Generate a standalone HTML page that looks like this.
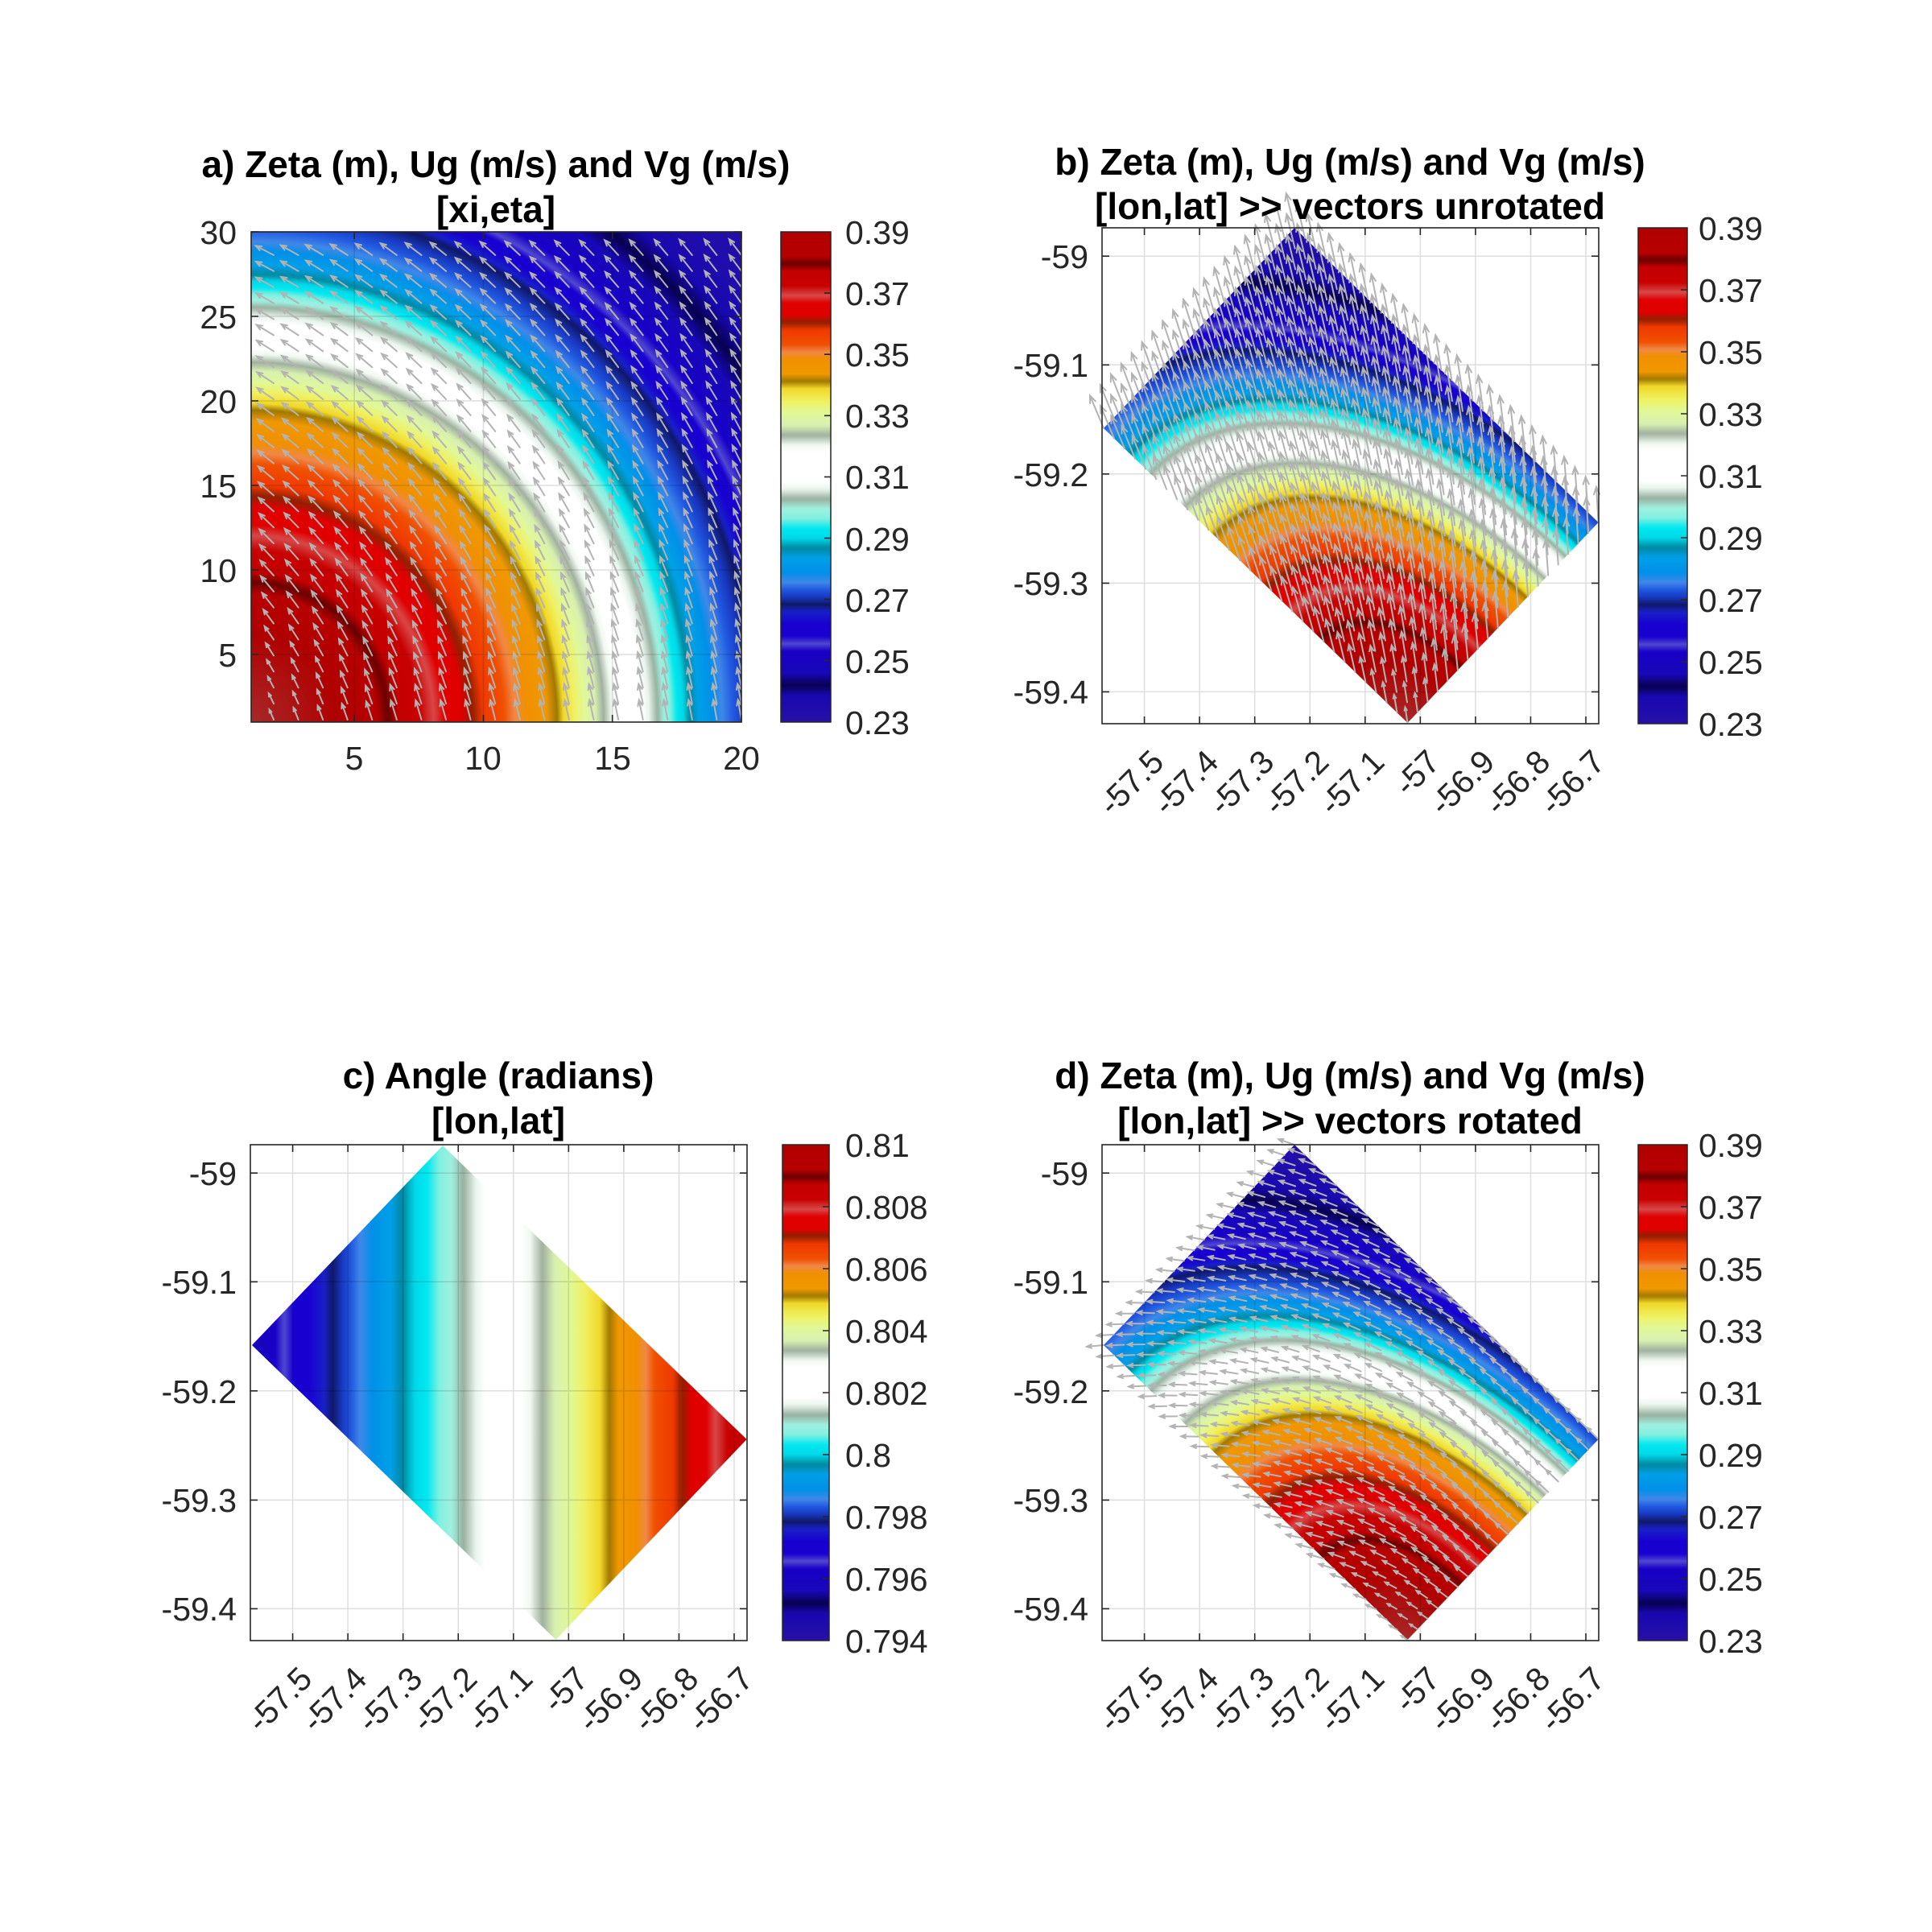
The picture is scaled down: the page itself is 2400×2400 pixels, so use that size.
<!DOCTYPE html>
<html><head><meta charset="utf-8"><style>
html,body{margin:0;padding:0;background:#fff;}
svg{display:block;}
text{font-family:"Liberation Sans",Arial,sans-serif;}
.t{font-size:41px;fill:#262626;}
.h{font-size:46px;font-weight:bold;fill:#000;text-anchor:middle;}
</style></head><body>
<svg id="s" xmlns="http://www.w3.org/2000/svg" width="2400" height="2400" viewBox="0 0 2400 2400">
<defs id="defs">
<rect id="fieldA" x="312" y="288" width="609" height="609" fill="url(#ga)"/>
</defs>
<rect width="2400" height="2400" fill="#fff"/>
<g id="fields">
<rect x="312" y="288" width="609" height="609" fill="url(#ga)"/>
<use href="#fieldA" transform="matrix(0.3893,-0.4089,0.6199,0.6010,1071.0,486.5)"/>
<use href="#fieldA" transform="matrix(0.3893,-0.4089,0.6199,0.6010,1071.0,1625.5)"/>
<polygon points="550,1423 313,1671 690.5,2037 927.6,1788" fill="url(#gc)"/>
<rect x="970" y="288" width="62" height="609" fill="url(#gcb)" stroke="#262626" stroke-width="1.5"/>
<rect x="2035" y="283" width="61" height="616" fill="url(#gcb)" stroke="#262626" stroke-width="1.5"/>
<rect x="972" y="1422" width="58" height="616" fill="url(#gcb)" stroke="#262626" stroke-width="1.5"/>
<rect x="2035" y="1422" width="61" height="616" fill="url(#gcb)" stroke="#262626" stroke-width="1.5"/>
</g>
<g id="grid" stroke="#000" stroke-opacity="0.13" stroke-width="1.5" fill="none"></g>
<g id="arrows" stroke="#b3b3b3" stroke-width="2" fill="none" stroke-linecap="round"></g>
<g id="frames" stroke="#262626" stroke-width="1.6" fill="none">
<rect x="312" y="288" width="609" height="609"/>
<rect x="1369" y="283" width="617" height="616"/>
<rect x="311" y="1422" width="617" height="616"/>
<rect x="1369" y="1422" width="617" height="616"/>
</g>
<g id="ticks" stroke="#262626" stroke-width="1.6" fill="none"></g>

<text class="h" x="616" y="220">a) Zeta (m), Ug (m/s) and Vg (m/s)</text>
<text class="h" x="616" y="276">[xi,eta]</text>
<text class="h" x="1677" y="217">b) Zeta (m), Ug (m/s) and Vg (m/s)</text>
<text class="h" x="1677" y="272">[lon,lat] &gt;&gt; vectors unrotated</text>
<text class="h" x="619" y="1352">c) Angle (radians)</text>
<text class="h" x="619" y="1408">[lon,lat]</text>
<text class="h" x="1677" y="1352">d) Zeta (m), Ug (m/s) and Vg (m/s)</text>
<text class="h" x="1677" y="1408">[lon,lat] &gt;&gt; vectors rotated</text>

<g class="t" text-anchor="end">
<text x="294" y="303">30</text><text x="294" y="408">25</text><text x="294" y="513">20</text>
<text x="294" y="618">15</text><text x="294" y="723">10</text><text x="294" y="828">5</text>
</g>
<g class="t" text-anchor="middle">
<text x="440" y="956">5</text><text x="600" y="956">10</text><text x="761" y="956">15</text><text x="921" y="956">20</text>
</g>
<g class="t">
<text x="1050" y="303">0.39</text><text x="1050" y="379">0.37</text><text x="1050" y="455">0.35</text>
<text x="1050" y="531">0.33</text><text x="1050" y="607">0.31</text><text x="1050" y="684">0.29</text>
<text x="1050" y="760">0.27</text><text x="1050" y="836">0.25</text><text x="1050" y="912">0.23</text>
</g>
<g class="t" text-anchor="end">
<text x="1352" y="333">-59</text><text x="1352" y="468">-59.1</text><text x="1352" y="604">-59.2</text>
<text x="1352" y="739">-59.3</text><text x="1352" y="874">-59.4</text>
</g>
<g class="t">
<text x="2110" y="298">0.39</text><text x="2110" y="375">0.37</text><text x="2110" y="452">0.35</text>
<text x="2110" y="529">0.33</text><text x="2110" y="606">0.31</text><text x="2110" y="683">0.29</text>
<text x="2110" y="760">0.27</text><text x="2110" y="837">0.25</text><text x="2110" y="914">0.23</text>
</g>
<g class="t" text-anchor="end">
<text x="294" y="1472">-59</text><text x="294" y="1607">-59.1</text><text x="294" y="1743">-59.2</text>
<text x="294" y="1878">-59.3</text><text x="294" y="2013">-59.4</text>
</g>
<g class="t">
<text x="1050" y="1437">0.81</text><text x="1050" y="1514">0.808</text><text x="1050" y="1591">0.806</text>
<text x="1050" y="1668">0.804</text><text x="1050" y="1745">0.802</text><text x="1050" y="1822">0.8</text>
<text x="1050" y="1899">0.798</text><text x="1050" y="1976">0.796</text><text x="1050" y="2053">0.794</text>
</g>
<g class="t" text-anchor="end">
<text x="1352" y="1472">-59</text><text x="1352" y="1607">-59.1</text><text x="1352" y="1743">-59.2</text>
<text x="1352" y="1878">-59.3</text><text x="1352" y="2013">-59.4</text>
</g>
<g class="t">
<text x="2110" y="1437">0.39</text><text x="2110" y="1514">0.37</text><text x="2110" y="1591">0.35</text>
<text x="2110" y="1668">0.33</text><text x="2110" y="1745">0.31</text><text x="2110" y="1822">0.29</text>
<text x="2110" y="1899">0.27</text><text x="2110" y="1976">0.25</text><text x="2110" y="2053">0.23</text>
</g>
<g class="t" text-anchor="end">
<text transform="translate(1448,949) rotate(-45)">-57.5</text>
<text transform="translate(1516,949) rotate(-45)">-57.4</text>
<text transform="translate(1585,949) rotate(-45)">-57.3</text>
<text transform="translate(1653,949) rotate(-45)">-57.2</text>
<text transform="translate(1722,949) rotate(-45)">-57.1</text>
<text transform="translate(1791,949) rotate(-45)">-57</text>
<text transform="translate(1859,949) rotate(-45)">-56.9</text>
<text transform="translate(1928,949) rotate(-45)">-56.8</text>
<text transform="translate(1996,949) rotate(-45)">-56.7</text>

<text transform="translate(1448,2088) rotate(-45)">-57.5</text>
<text transform="translate(1516,2088) rotate(-45)">-57.4</text>
<text transform="translate(1585,2088) rotate(-45)">-57.3</text>
<text transform="translate(1653,2088) rotate(-45)">-57.2</text>
<text transform="translate(1722,2088) rotate(-45)">-57.1</text>
<text transform="translate(1791,2088) rotate(-45)">-57</text>
<text transform="translate(1859,2088) rotate(-45)">-56.9</text>
<text transform="translate(1928,2088) rotate(-45)">-56.8</text>
<text transform="translate(1996,2088) rotate(-45)">-56.7</text>

<text transform="translate(390,2088) rotate(-45)">-57.5</text>
<text transform="translate(458,2088) rotate(-45)">-57.4</text>
<text transform="translate(527,2088) rotate(-45)">-57.3</text>
<text transform="translate(595,2088) rotate(-45)">-57.2</text>
<text transform="translate(664,2088) rotate(-45)">-57.1</text>
<text transform="translate(733,2088) rotate(-45)">-57</text>
<text transform="translate(801,2088) rotate(-45)">-56.9</text>
<text transform="translate(870,2088) rotate(-45)">-56.8</text>
<text transform="translate(938,2088) rotate(-45)">-56.7</text>
</g>
</svg>
<script>
(function(){
var NS="http://www.w3.org/2000/svg";
var A=[[-0.1,'#a82828'],[0,'#b00000'],[0.05,'#b80000'],[0.065,'#6a0000'],[0.08,'#c40000'],[0.11,'#c80000'],[0.13,'#d84848'],[0.145,'#e00000'],[0.17,'#e00000'],[0.185,'#902000'],[0.2,'#f03800'],[0.23,'#f05000'],[0.245,'#f08848'],[0.26,'#f09000'],[0.29,'#f09800'],[0.305,'#a07800'],[0.32,'#f0d828'],[0.345,'#f0f060'],[0.37,'#e0f898'],[0.395,'#d8f0b0'],[0.415,'#a0b0a0'],[0.435,'#f0f8f0'],[0.45,'#ffffff'],[0.51,'#ffffff'],[0.525,'#e8f4ec'],[0.545,'#98b0a0'],[0.565,'#a0f0e0'],[0.585,'#80f0e0'],[0.605,'#00e8f0'],[0.625,'#00d8e8'],[0.645,'#0088a0'],[0.665,'#00a0e8'],[0.695,'#0090e8'],[0.715,'#4088e8'],[0.73,'#2058e0'],[0.745,'#1838c0'],[0.76,'#101868'],[0.775,'#1820c8'],[0.8,'#1800d0'],[0.825,'#1800d0'],[0.84,'#5048d0'],[0.855,'#1800c8'],[0.9,'#1808b8'],[0.925,'#080050'],[0.945,'#1808b0'],[1,'#2810a8']];
function hx(h){return [parseInt(h.substr(1,2),16),parseInt(h.substr(3,2),16),parseInt(h.substr(5,2),16)];}
var AC=A.map(function(a){return [a[0],hx(a[1])];});
function cmap(t){if(t<-0.1)t=-0.1;if(t>1)t=1;for(var i=0;i<AC.length-1;i++){if(t<=AC[i+1][0]){var a=AC[i],b=AC[i+1];var f=(t-a[0])/(b[0]-a[0]||1);var c=[0,1,2].map(function(k){return Math.round(a[1][k]+(b[1][k]-a[1][k])*f);});return 'rgb('+c.join(',')+')';}}return 'rgb(40,16,168)';}
function interp(p,x){if(x<=p[0][0])return p[0][1];for(var i=0;i<p.length-1;i++){if(x<=p[i+1][0]){var f=(x-p[i][0])/(p[i+1][0]-p[i][0]);return p[i][1]+(p[i+1][1]-p[i][1])*f;}}return p[p.length-1][1];}
var defs=document.getElementById('defs');
function grad(type,id,attrs,fn,n){var g=document.createElementNS(NS,type);g.setAttribute('id',id);for(var k in attrs)g.setAttribute(k,attrs[k]);for(var i=0;i<=n;i++){var o=i/n;var s=document.createElementNS(NS,'stop');s.setAttribute('offset',o);s.setAttribute('stop-color',cmap(fn(o)));g.appendChild(s);}defs.appendChild(g);}
var RM=[[0,-0.1],[110,0.0],[170,0.065],[380,0.305],[438,0.415],[470,0.48],[505,0.545],[545,0.645],[585,0.715],[628,0.76],[668,0.84],[744,0.925],[800,0.97],[900,1.0]];
grad('radialGradient','ga',{gradientUnits:'userSpaceOnUse',cx:312,cy:897,r:900,fx:312,fy:897,gradientTransform:'translate(312 897) scale(1 1.02) translate(-312 -897)'},function(o){return interp(RM,o*900);},450);
grad('linearGradient','gc',{gradientUnits:'userSpaceOnUse',x1:311,y1:0,x2:928,y2:0},function(o){return 0.896-0.818*o;},300);
grad('linearGradient','gcb',{x1:0,y1:0,x2:0,y2:1},function(o){return o;},300);

var gd='',tk='';
function hline(x1,x2,y){return 'M'+x1+' '+y+'H'+x2;}
function vline(y1,y2,x){return 'M'+x+' '+y1+'V'+y2;}
[440.2,600.5,760.7,921].forEach(function(x){gd+=vline(288,897,x);tk+=vline(897,888,x)+vline(288,297,x);});
[813,708,603,498,393,288].forEach(function(y){gd+=hline(312,921,y);tk+=hline(312,321,y)+hline(921,912,y);});
var lx=[];for(var i=0;i<9;i++)lx.push(1421.6+i*68.55);
var ly=[1457.2,1592.3,1727.8,1863.4,1998.4];
[[0,-1139,1369,1986,283,899],[0,0,1369,1986,1422,2038],[-1058,0,311,928,1422,2038]].forEach(function(P){
 var dx=P[0],dy=P[1];
 lx.forEach(function(x){x+=dx;gd+=vline(P[4],P[5],x);tk+=vline(P[5],P[5]-9,x)+vline(P[4],P[4]+9,x);});
 ly.forEach(function(y){y+=dy;gd+=hline(P[2],P[3],y);tk+=hline(P[2],P[2]+9,y)+hline(P[3],P[3]-9,y);});
});
for(var i=1;i<8;i++){tk+=hline(1032,1024,288+i*76.1);tk+=hline(1030,1022,1422+i*77);tk+=hline(2096,2088,283+i*77);tk+=hline(2096,2088,1422+i*77);}
var p=document.createElementNS(NS,'path');p.setAttribute('d',gd);document.getElementById('grid').appendChild(p);
p=document.createElementNS(NS,'path');p.setAttribute('d',tk);document.getElementById('ticks').appendChild(p);

function arrow(x,y,ang,L,hf){var r=ang*Math.PI/180;var ex=x+L*Math.cos(r),ey=y-L*Math.sin(r);var h=L*hf,s=0.38;
 var a1=r+Math.PI-s,a2=r+Math.PI+s;
 return 'M'+x.toFixed(1)+' '+y.toFixed(1)+'L'+ex.toFixed(1)+' '+ey.toFixed(1)+'M'+(ex+h*Math.cos(a1)).toFixed(1)+' '+(ey-h*Math.sin(a1)).toFixed(1)+'L'+ex.toFixed(1)+' '+ey.toFixed(1)+'L'+(ex+h*Math.cos(a2)).toFixed(1)+' '+(ey-h*Math.sin(a2)).toFixed(1);}
function angAt(px,py){var dx=px-(312-360),du=(897+165)-py;return Math.atan2(dx,-du)*180/Math.PI;}
function magAt(px,py){var cdx=px-312,cdu=897-py;var r=Math.sqrt(cdx*cdx+cdu*cdu);return Math.min(1,0.45+r/300);}
var M=[0.3893,-0.4089,0.6199,0.6010,1071.0,486.5];
var pa='',pb='',pd='';
for(var k=0;k<20;k++)for(var j=0;j<30;j++){
 var px=340+k*(581/19),py=894-j*19.9;
 pa+=arrow(px,py,angAt(px,py),25*magAt(px,py),0.3);
}
for(var xi=1;xi<=20;xi++)for(var et=1;et<=30;et++){
 var px=312+(xi-1)*32.05,py=897-(et-1)*21;
 var angA=angAt(px,py),m=magAt(px,py);
 var X=M[0]*px+M[2]*py+M[4],Y=M[1]*px+M[3]*py+M[5];
 pb+=arrow(X,Y,90+0.35*(angA-90),44*m,0.22);
 pd+=arrow(X,Y+1139,135+(angA-100)*50/55,21*m,0.3);
}
var g=document.getElementById('arrows');
[pa,pb,pd].forEach(function(d){var q=document.createElementNS(NS,'path');q.setAttribute('d',d);g.appendChild(q);});
})();
</script>
</body></html>
